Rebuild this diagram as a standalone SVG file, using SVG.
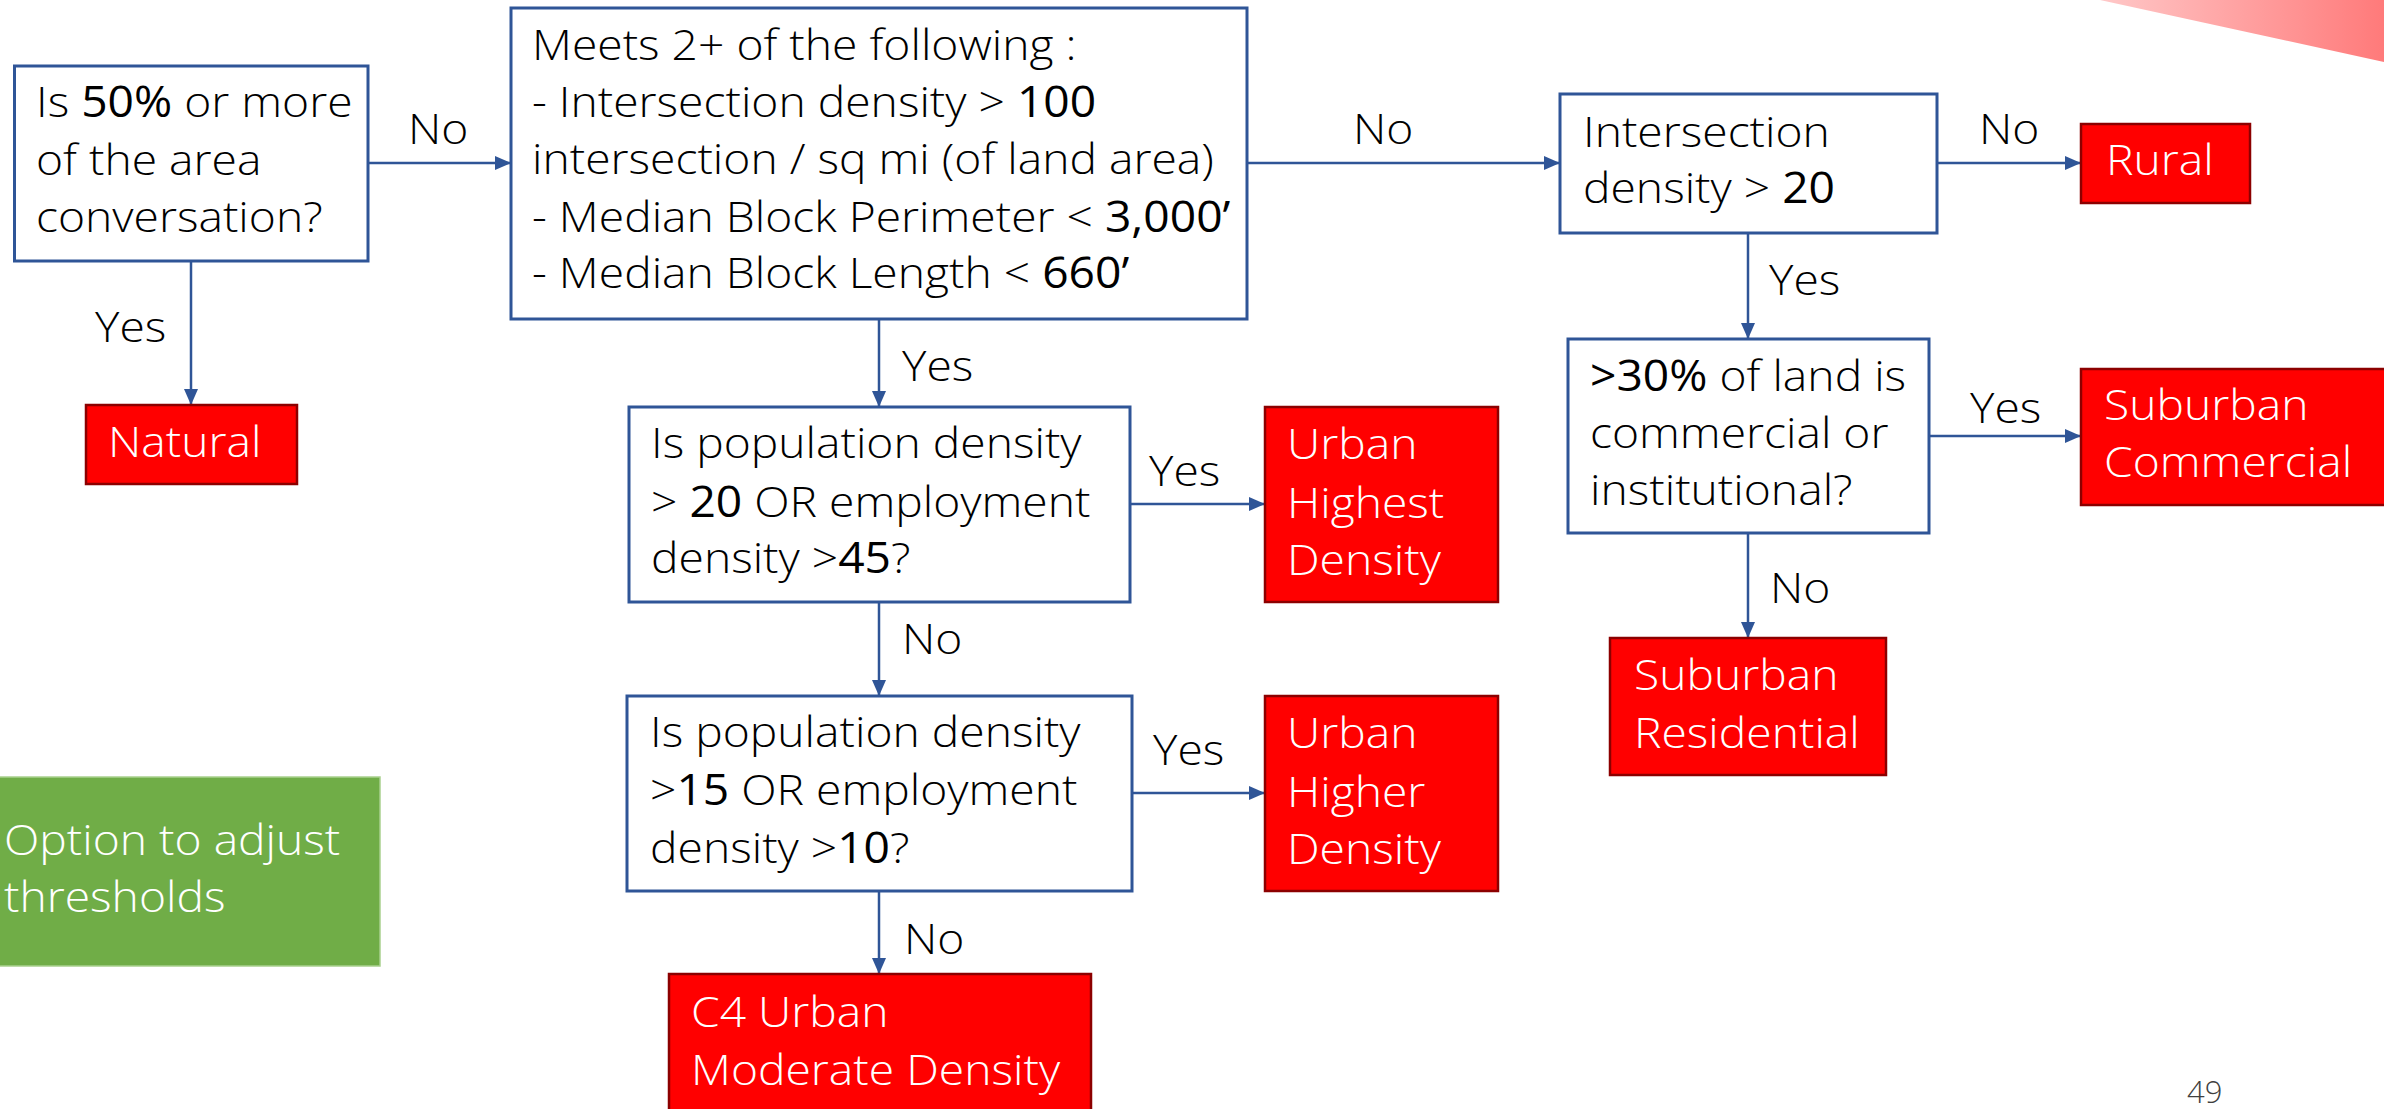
<svg xmlns="http://www.w3.org/2000/svg" width="2384" height="1109" viewBox="0 0 2384 1109">
  <defs>
    <linearGradient id="cornerFade" x1="0" y1="0" x2="1" y2="0">
      <stop offset="0" stop-color="#FFC8C8"/>
      <stop offset="1" stop-color="#FF7A7A"/>
    </linearGradient>
    <marker id="arrow" markerUnits="userSpaceOnUse" markerWidth="16" markerHeight="14" refX="16" refY="7" orient="auto">
      <path d="M0,0 L16,7 L0,14 z" fill="#2F5597"/>
    </marker>
    <style>
      text { font-family: "Open Sans", "Segoe UI", Roboto, "Liberation Sans", sans-serif; font-weight: 300; font-size: 43px;
             transform-box: fill-box; transform-origin: 0 0; transform: scaleX(1.075); }
      .dark { fill: #000000; }
      .light { fill: #FFFFFF; }
      .num { font-weight: 400; }
      .decision { fill: #FFFFFF; stroke: #2F5597; stroke-width: 3; }
      .result { fill: #FF0000; stroke: #8C0000; stroke-width: 2.5; }
      .note { fill: #70AD47; stroke: #A9D18E; stroke-width: 1.5; }
      .conn { fill: none; stroke: #2F5597; stroke-width: 2.5; marker-end: url(#arrow); }
      .lbl { fill: #000000; }
      .page { font-size: 31px; fill: #404040; transform: none; }
    </style>
  </defs>

  <rect width="2384" height="1109" fill="#FFFFFF"/>
  <polygon points="2100,0 2384,0 2384,62" fill="url(#cornerFade)"/>

  <!-- connectors -->
  <g id="connectors">
    <line class="conn" x1="368" y1="163" x2="511" y2="163"/>
    <line class="conn" x1="191" y1="261" x2="191" y2="405"/>
    <line class="conn" x1="1247" y1="163" x2="1560" y2="163"/>
    <line class="conn" x1="1937" y1="163" x2="2081" y2="163"/>
    <line class="conn" x1="1748" y1="233" x2="1748" y2="339"/>
    <line class="conn" x1="879" y1="319" x2="879" y2="407"/>
    <line class="conn" x1="1130" y1="504" x2="1265" y2="504"/>
    <line class="conn" x1="879" y1="602" x2="879" y2="696"/>
    <line class="conn" x1="1929" y1="436" x2="2081" y2="436"/>
    <line class="conn" x1="1748" y1="533" x2="1748" y2="638"/>
    <line class="conn" x1="1132" y1="793" x2="1265" y2="793"/>
    <line class="conn" x1="879" y1="891" x2="879" y2="974"/>
    <g id="connector-labels">
      <text class="lbl" x="408" y="144">No</text>
      <text class="lbl" x="95" y="342">Yes</text>
      <text class="lbl" x="1353" y="144">No</text>
      <text class="lbl" x="1979" y="144">No</text>
      <text class="lbl" x="902" y="381">Yes</text>
      <text class="lbl" x="1769" y="295">Yes</text>
      <text class="lbl" x="1149" y="486">Yes</text>
      <text class="lbl" x="902" y="654">No</text>
      <text class="lbl" x="1970" y="423">Yes</text>
      <text class="lbl" x="1770" y="603">No</text>
      <text class="lbl" x="1153" y="765">Yes</text>
      <text class="lbl" x="904" y="954">No</text>
    </g>
  </g>

  <g id="q-conservation">
    <rect class="decision" x="14.5" y="66" width="353.5" height="195"/>
    <text class="dark" x="36" y="117">Is <tspan class="num">50%</tspan> or more</text>
    <text class="dark" x="36" y="175">of the area</text>
    <text class="dark" x="36" y="232">conversation?</text>
  </g>

  <g id="q-street-network">
    <rect class="decision" x="511" y="8" width="736" height="311"/>
    <text class="dark" x="532" y="60">Meets 2+ of the following :</text>
    <text class="dark" x="532" y="117">- Intersection density &gt; <tspan class="num">100</tspan></text>
    <text class="dark" x="532" y="174">intersection / sq mi (of land area)</text>
    <text class="dark" x="532" y="232">- Median Block Perimeter &lt; <tspan class="num">3,000’</tspan></text>
    <text class="dark" x="532" y="288">- Median Block Length &lt; <tspan class="num">660’</tspan></text>
  </g>

  <g id="q-intersection">
    <rect class="decision" x="1560" y="94" width="377" height="139"/>
    <text class="dark" x="1583" y="147">Intersection</text>
    <text class="dark" x="1583" y="203">density &gt; <tspan class="num">20</tspan></text>
  </g>

  <g id="r-rural">
    <rect class="result" x="2081" y="124" width="169" height="79"/>
    <text class="light" x="2106" y="175">Rural</text>
  </g>

  <g id="r-natural">
    <rect class="result" x="86" y="405" width="211" height="79"/>
    <text class="light" x="108" y="457">Natural</text>
  </g>

  <g id="q-density-high">
    <rect class="decision" x="629" y="407" width="501" height="195"/>
    <text class="dark" x="651" y="458">Is population density</text>
    <text class="dark" x="651" y="517">&gt; <tspan class="num">20</tspan> OR employment</text>
    <text class="dark" x="651" y="573">density &gt;<tspan class="num">45</tspan>?</text>
  </g>

  <g id="r-urban-highest">
    <rect class="result" x="1265" y="407" width="233" height="195"/>
    <text class="light" x="1287" y="459">Urban</text>
    <text class="light" x="1287" y="518">Highest</text>
    <text class="light" x="1287" y="575">Density</text>
  </g>

  <g id="q-density-higher">
    <rect class="decision" x="627" y="696" width="505" height="195"/>
    <text class="dark" x="650" y="747">Is population density</text>
    <text class="dark" x="650" y="805">&gt;<tspan class="num">15</tspan> OR employment</text>
    <text class="dark" x="650" y="863">density &gt;<tspan class="num">10</tspan>?</text>
  </g>

  <g id="r-urban-higher">
    <rect class="result" x="1265" y="696" width="233" height="195"/>
    <text class="light" x="1287" y="748">Urban</text>
    <text class="light" x="1287" y="807">Higher</text>
    <text class="light" x="1287" y="864">Density</text>
  </g>

  <g id="r-c4-moderate">
    <rect class="result" x="669" y="974" width="422" height="145"/>
    <text class="light" x="691" y="1027">C4 Urban</text>
    <text class="light" x="691" y="1085">Moderate Density</text>
  </g>

  <g id="q-land-use">
    <rect class="decision" x="1568" y="339" width="361" height="194"/>
    <text class="dark" x="1590" y="391"><tspan class="num">&gt;30%</tspan> of land is</text>
    <text class="dark" x="1590" y="448">commercial or</text>
    <text class="dark" x="1590" y="505">institutional?</text>
  </g>

  <g id="r-suburban-commercial">
    <rect class="result" x="2081" y="369" width="320" height="136"/>
    <text class="light" x="2104" y="420">Suburban</text>
    <text class="light" x="2104" y="477">Commercial</text>
  </g>

  <g id="r-suburban-residential">
    <rect class="result" x="1610" y="638" width="276" height="137"/>
    <text class="light" x="1634" y="690">Suburban</text>
    <text class="light" x="1634" y="748">Residential</text>
  </g>

  <g id="n-thresholds">
    <rect class="note" x="-5" y="777" width="385" height="189"/>
    <text class="light" x="4" y="855">Option to adjust</text>
    <text class="light" x="4" y="912">thresholds</text>
  </g>

  <text class="page" x="2187" y="1103">49</text>
</svg>
